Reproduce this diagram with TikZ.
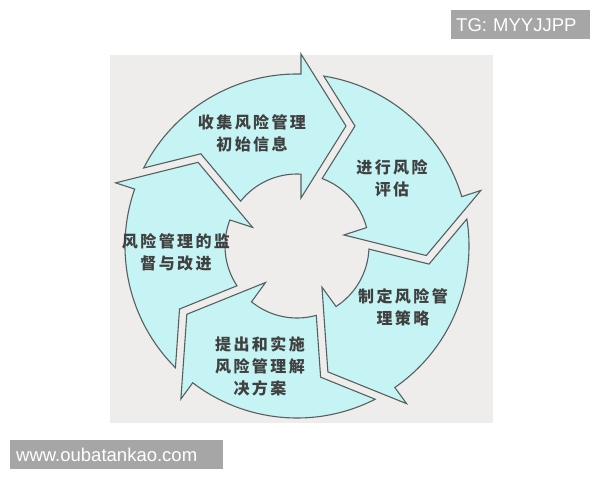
\documentclass[tikz,border=0pt]{standalone}
\usepackage{fontspec}
\setmainfont{Liberation Sans}
\newfontfamily\cjk[LetterSpace=15]{Noto Sans CJK SC}
\definecolor{arrowfill}{HTML}{C6F4F4}
\definecolor{arrowline}{HTML}{56605F}
\definecolor{panel}{HTML}{EEEDEB}
\definecolor{wm}{HTML}{A6A6A6}
\tikzset{
  arrowshape/.style={fill=arrowfill, draw=arrowline, line width=1.1pt, line join=miter},
  lbl/.style={font=\cjk\bfseries\fontsize{16}{22}\selectfont, text=black!75, align=center, inner sep=0pt},
  wmbox/.style={fill=wm, text=white, font=\fontsize{18.5}{20}\selectfont, anchor=north west,
    minimum height=29pt, inner ysep=0pt, align=left}
}
\begin{document}
\begin{tikzpicture}[x=1pt,y=1pt]
\useasboundingbox (-297,-234) rectangle (303,246);
\fill[white] (-297,-234) rectangle (303,246);
% panel
\fill[panel] (-187,191) rectangle (196,-177);
% five arrows
\foreach \k in {0,...,4} {
  \begin{scope}[rotate=-72*\k]
    \path[arrowshape] (-153.29,78.01) arc[start angle=153.03, end angle=88.67, radius=172]
      -- (4,192) -- (49,120) -- (4,48) -- (4,71.89)
      arc[start angle=86.82, end angle=141.55, radius=72]
      -- (-96.21,92.24) -- cycle;
  \end{scope}
}
% labels
\node[lbl] (t1) at (-45,113) {收集风险管理\\初始信息};
\node[lbl] (t2) at (95,68) {进行风险\\评估};
\node[lbl] (t3) at (106,-61) {制定风险管\\理策略};
\node[lbl] (t4) at (-37,-120) {提出和实施\\风险管理解\\决方案};
\node[lbl] (t5) at (-121,-6) {风险管理的监\\督与改进};
% watermarks
\node[wmbox, inner xsep=5pt, text width=129pt] (tg) at (154,236) {TG: MYYJJPP};
\node[wmbox, inner xsep=6pt, text width=201pt] (www) at (-287,-194) {www.oubatankao.com};
\end{tikzpicture}
\end{document}
